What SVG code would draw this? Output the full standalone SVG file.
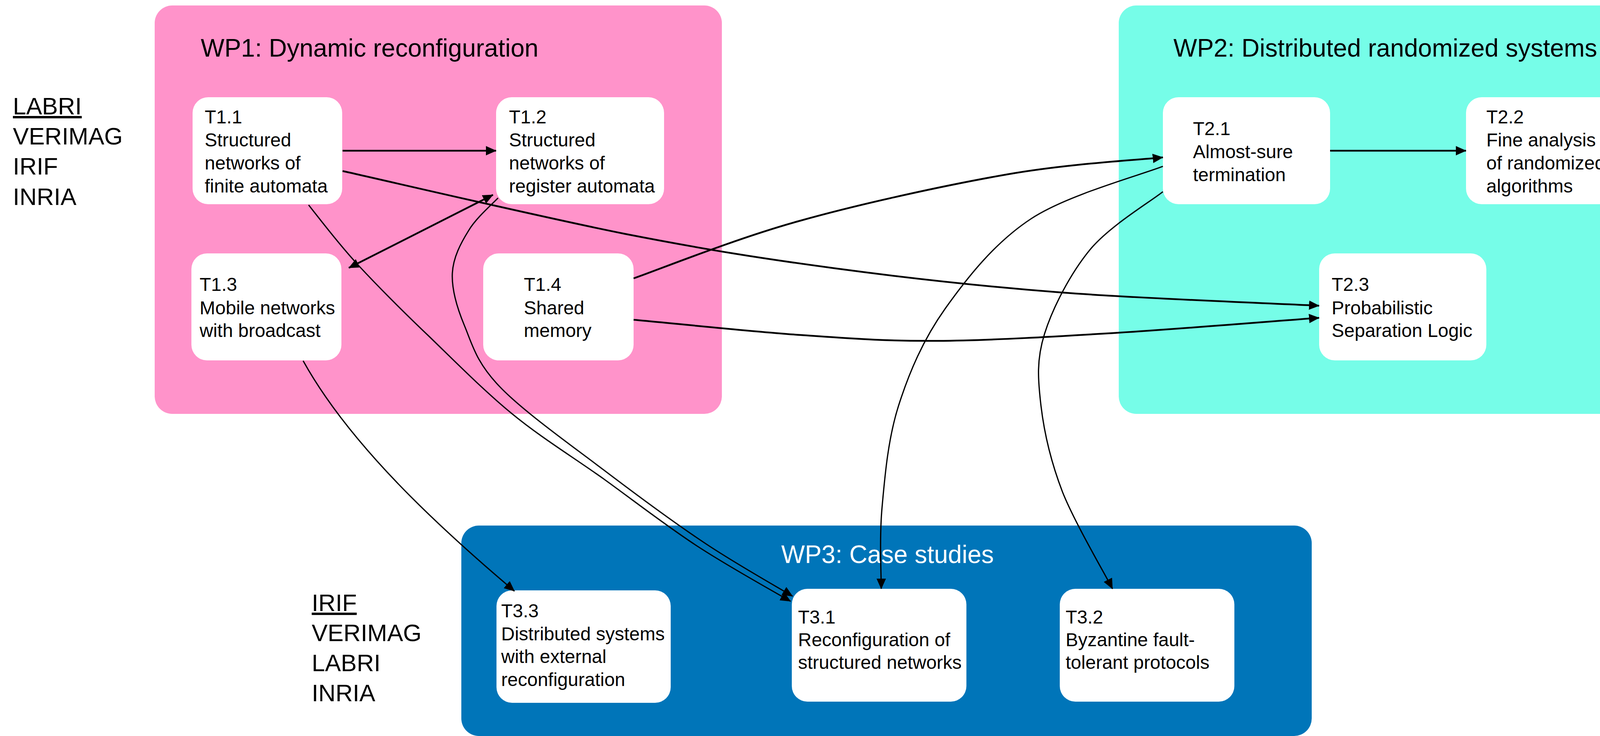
<svg xmlns="http://www.w3.org/2000/svg" width="4741" height="1885" viewBox="0 0 4741 1885">
<style>
text{font-family:"Liberation Sans",Arial,Helvetica,sans-serif;fill:#000}
.wp{font-size:64px}
.nt{font-size:48px}
.lab{font-size:61px}
.node{fill:#fff}
.c{fill:none;stroke:#000;stroke-linecap:butt}
.thick{stroke-width:4.5}
.thin{stroke-width:3.2}
</style>
<defs>
<marker id="ah" markerUnits="userSpaceOnUse" markerWidth="27" markerHeight="24" refX="26" refY="12" orient="auto-start-reverse" viewBox="0 0 27 24">
<path d="M0,0 L27,12 L0,24 Z" fill="#000"/>
</marker>
</defs>
<rect width="4741" height="1885" fill="#fff"/>

<g id="wp1">
<rect x="396" y="14" width="1452" height="1046" rx="45" fill="#FF93CA"/>
<text class="wp" x="514" y="145">WP1: Dynamic reconfiguration</text>
</g>
<g id="wp2">
<rect x="2864" y="14" width="1454" height="1046" rx="45" fill="#76FDE8"/>
<text class="wp" x="3004" y="145">WP2: Distributed randomized systems</text>
</g>
<g id="wp3">
<rect x="1181" y="1346" width="2177" height="539" rx="45" fill="#0075B9"/>
<text class="wp" x="2000" y="1442" style="fill:#fff">WP3: Case studies</text>
</g>

<g id="partners-wp1">
<text class="lab" x="33" y="293" text-decoration="underline">LABRI</text>
<text class="lab" x="33" y="370">VERIMAG</text>
<text class="lab" x="33" y="447">IRIF</text>
<text class="lab" x="33" y="525">INRIA</text>
</g>
<g id="partners-wp2">
<text class="lab" x="4396" y="293" text-decoration="underline">INRIA</text>
<text class="lab" x="4396" y="370">VERIMAG</text>
<text class="lab" x="4396" y="447">LABRI</text>
</g>
<g id="partners-wp3">
<text class="lab" x="798" y="1565" text-decoration="underline">IRIF</text>
<text class="lab" x="798" y="1642">VERIMAG</text>
<text class="lab" x="798" y="1719">LABRI</text>
<text class="lab" x="798" y="1796">INRIA</text>
</g>

<g id="T1.1">
<rect class="node" x="493" y="249" width="383" height="274" rx="40"/>
<text class="nt" x="524" y="316">T1.1</text>
<text class="nt" x="524" y="375">Structured</text>
<text class="nt" x="524" y="434">networks of</text>
<text class="nt" x="524" y="493">finite automata</text>
</g>
<g id="T1.2">
<rect class="node" x="1270" y="249" width="430" height="274" rx="40"/>
<text class="nt" x="1303" y="316">T1.2</text>
<text class="nt" x="1303" y="375">Structured</text>
<text class="nt" x="1303" y="434">networks of</text>
<text class="nt" x="1303" y="493">register automata</text>
</g>
<g id="T1.3">
<rect class="node" x="490" y="649" width="384" height="274" rx="40"/>
<text class="nt" x="511" y="745">T1.3</text>
<text class="nt" x="511" y="805">Mobile networks</text>
<text class="nt" x="511" y="863">with broadcast</text>
</g>
<g id="T1.4">
<rect class="node" x="1237" y="649" width="385" height="274" rx="40"/>
<text class="nt" x="1341" y="745">T1.4</text>
<text class="nt" x="1341" y="805">Shared</text>
<text class="nt" x="1341" y="863">memory</text>
</g>
<g id="T2.1">
<rect class="node" x="2977" y="249" width="428" height="274" rx="40"/>
<text class="nt" x="3054" y="346">T2.1</text>
<text class="nt" x="3054" y="405">Almost-sure</text>
<text class="nt" x="3054" y="464">termination</text>
</g>
<g id="T2.2">
<rect class="node" x="3753" y="249" width="428" height="274" rx="40"/>
<text class="nt" x="3805" y="316">T2.2</text>
<text class="nt" x="3805" y="375">Fine analysis</text>
<text class="nt" x="3805" y="434">of randomized</text>
<text class="nt" x="3805" y="493">algorithms</text>
</g>
<g id="T2.3">
<rect class="node" x="3377" y="649" width="428" height="274" rx="40"/>
<text class="nt" x="3409" y="745">T2.3</text>
<text class="nt" x="3409" y="805">Probabilistic</text>
<text class="nt" x="3409" y="863">Separation Logic</text>
</g>
<g id="T3.3">
<rect class="node" x="1271" y="1512" width="446" height="288" rx="40"/>
<text class="nt" x="1283" y="1581">T3.3</text>
<text class="nt" x="1283" y="1640">Distributed systems</text>
<text class="nt" x="1283" y="1698">with external</text>
<text class="nt" x="1283" y="1757">reconfiguration</text>
</g>
<g id="T3.1">
<rect class="node" x="2027" y="1508" width="447" height="289" rx="40"/>
<text class="nt" x="2043" y="1597">T3.1</text>
<text class="nt" x="2043" y="1655">Reconfiguration of</text>
<text class="nt" x="2043" y="1713">structured networks</text>
</g>
<g id="T3.2">
<rect class="node" x="2713" y="1508" width="447" height="289" rx="40"/>
<text class="nt" x="2728" y="1597">T3.2</text>
<text class="nt" x="2728" y="1655">Byzantine fault-</text>
<text class="nt" x="2728" y="1713">tolerant protocols</text>
</g>

<g id="connectors">
<path id="e-t11-t12" class="c thick" marker-end="url(#ah)" d="M877,386 L1270,386"/>
<path id="e-t21-t22" class="c thick" marker-end="url(#ah)" d="M3405,386 L3753,386"/>
<path id="e-t12-t13" class="c thick" marker-start="url(#ah)" marker-end="url(#ah)" d="M893,686 L1262,499"/>
<path id="e-t11-t23" class="c thick" marker-end="url(#ah)" d="M877,438 C998,465 1390,557 1600,599 C1810,640 1950,662 2136,687 C2322,712 2509,733 2716,749 C2922,765 3265,777 3377,783"/>
<path id="e-t14-t21" class="c thick" marker-end="url(#ah)" d="M1622,713 C1693,688 1886,610 2046,566 C2206,521 2427,473 2582,446 C2737,419 2911,410 2977,403"/>
<path id="e-t14-t23" class="c thick" marker-end="url(#ah)" d="M1622,819 C1693,825 1920,849 2050,858 C2180,867 2264,874 2400,873 C2536,872 2702,862 2865,852 C3028,842 3292,820 3377,814"/>
<path id="e-t11-t31" class="c thin" marker-end="url(#ah)" d="M790,525 C811,551 865,623 917,679 C969,735 1034,800 1100,863 C1165,926 1236,998 1310,1059 C1384,1120 1466,1170 1546,1227 C1625,1284 1707,1348 1787,1400 C1867,1452 1984,1517 2024,1540"/>
<path id="e-t12-t31" class="c thin" marker-end="url(#ah)" d="M1275,507 C1262,521 1219,558 1200,590 C1180,622 1160,659 1158,700 C1156,741 1169,786 1189,834 C1209,882 1219,928 1279,990 C1338,1052 1459,1138 1546,1204 C1633,1270 1719,1334 1800,1388 C1880,1442 1991,1504 2029,1527"/>
<path id="e-t13-t33" class="c thin" marker-end="url(#ah)" d="M776,924 C897,1142 1126,1352 1317,1514"/>
<path id="e-t21-t31" class="c thin" marker-end="url(#ah)" d="M2977,426 C2921,448 2733,499 2640,560 C2547,621 2477,710 2420,790 C2363,870 2327,955 2300,1040 C2273,1125 2265,1222 2258,1300 C2251,1378 2256,1473 2256,1508"/>
<path id="e-t21-t32" class="c thin" marker-end="url(#ah)" d="M2977,491 C2946,516 2840,579 2790,640 C2740,701 2695,788 2674,855 C2653,922 2657,972 2665,1040 C2673,1107 2690,1182 2720,1260 C2751,1338 2827,1467 2848,1508"/>
</g>
</svg>
